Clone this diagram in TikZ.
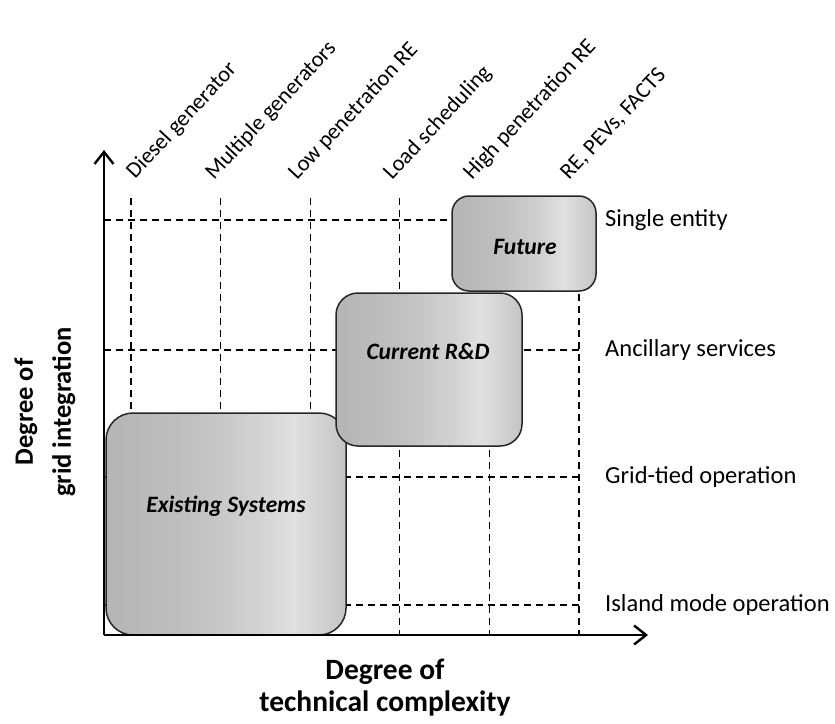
\documentclass[tikz,border=0pt]{standalone}
\usepackage{fontspec}
\setmainfont{Carlito}
\usetikzlibrary{arrows.meta}

% brushed-metal grey used to fill the three regions
\pgfdeclarehorizontalshading{metal}{100bp}{%
  color(0bp)=(black!29);
  color(25bp)=(black!29);
  color(42bp)=(black!25);
  color(56bp)=(black!18);
  color(64bp)=(black!12);
  color(70bp)=(black!18);
  color(75bp)=(black!23);
  color(100bp)=(black!23)}

\begin{document}
\begin{tikzpicture}[x=1pt,y=-1pt,
  gridline/.style={draw=black, line width=1.3pt, dash pattern=on 7pt off 5pt},
  axisline/.style={line width=2.4pt, -{Straight Barb[length=12pt,width=19pt]}},
  region/.style={draw=black!85, line width=1.5pt, shade, shading=metal,
                 inner sep=0pt, rectangle},
  steptag/.style={font=\fontsize{22.5}{26}\selectfont, inner sep=0pt,
                  rotate=47, anchor=base west},
  leveltag/.style={font=\fontsize{24.5}{28}\selectfont, inner sep=0pt, anchor=west},
  regionname/.style={font=\fontsize{23.5}{28}\selectfont\bfseries\itshape, inner sep=0pt},
  axisname/.style={font=\bfseries, align=center, inner sep=0pt}]

\path[use as bounding box] (0,0) rectangle (835,723);

% axes corner and arrow tips
\coordinate (O) at (104,635);
\coordinate (ytip) at (104,150);
\coordinate (xtip) at (648,635);

% dashed grid: one column per technology step, one row per integration level
\foreach \i in {0,...,5} {
  \coordinate (v\i top) at (131+89.6*\i,198);
  \coordinate (v\i bot) at (131+89.6*\i,635);
  \draw[gridline] (v\i top) -- (v\i bot);
}
\foreach \j/\yy in {0/220,1/350,2/477,3/605} {
  \coordinate (h\j left) at (104,\yy);
  \coordinate (h\j right) at (579,\yy);
  \draw[gridline] (h\j left) -- (h\j right);
}

% regions
\node[region, minimum width=240pt, minimum height=222pt, rounded corners=27pt] (existing) at (226,524) {};
\node[region, minimum width=186pt, minimum height=153pt, rounded corners=22pt] (current) at (429,369.5) {};
\node[region, minimum width=144pt, minimum height=95pt, rounded corners=17pt] (future) at (524,243.5) {};

\node[regionname] (existingname) at (226,506) {Existing Systems};
\node[regionname] (currentname) at (428,351) {Current R\&D};
\node[regionname] (futurename) at (525,247) {Future};

% axes
\draw[axisline] (O) -- (ytip);
\draw[axisline] (O) -- (xtip);

% technology steps along the top
\node[steptag] (step0) at (135,180) {Diesel generator};
\node[steptag] (step1) at (214,181) {Multiple generators};
\node[steptag] (step2) at (297,181) {Low penetration RE};
\node[steptag] (step3) at (392,181) {Load scheduling};
\node[steptag] (step4) at (472,181) {High penetration RE};
\node[steptag] (step5) at (569,181) {RE, PEVs, FACTS};

% integration levels on the right
\node[leveltag] (level0) at (605,220) {Single entity};
\node[leveltag] (level1) at (605,350) {Ancillary services};
\node[leveltag] (level2) at (605,477) {Grid-tied operation};
\node[leveltag] (level3) at (605,605) {Island mode operation};

% axis titles
\node[axisname, font=\fontsize{29.5}{32}\selectfont\bfseries] (xname) at (385,688)
  {Degree of\\technical complexity};
\node[axisname, font=\fontsize{26.5}{38}\selectfont\bfseries, rotate=90] (yname) at (45,412)
  {Degree of\\grid integration};
\end{tikzpicture}
\end{document}
